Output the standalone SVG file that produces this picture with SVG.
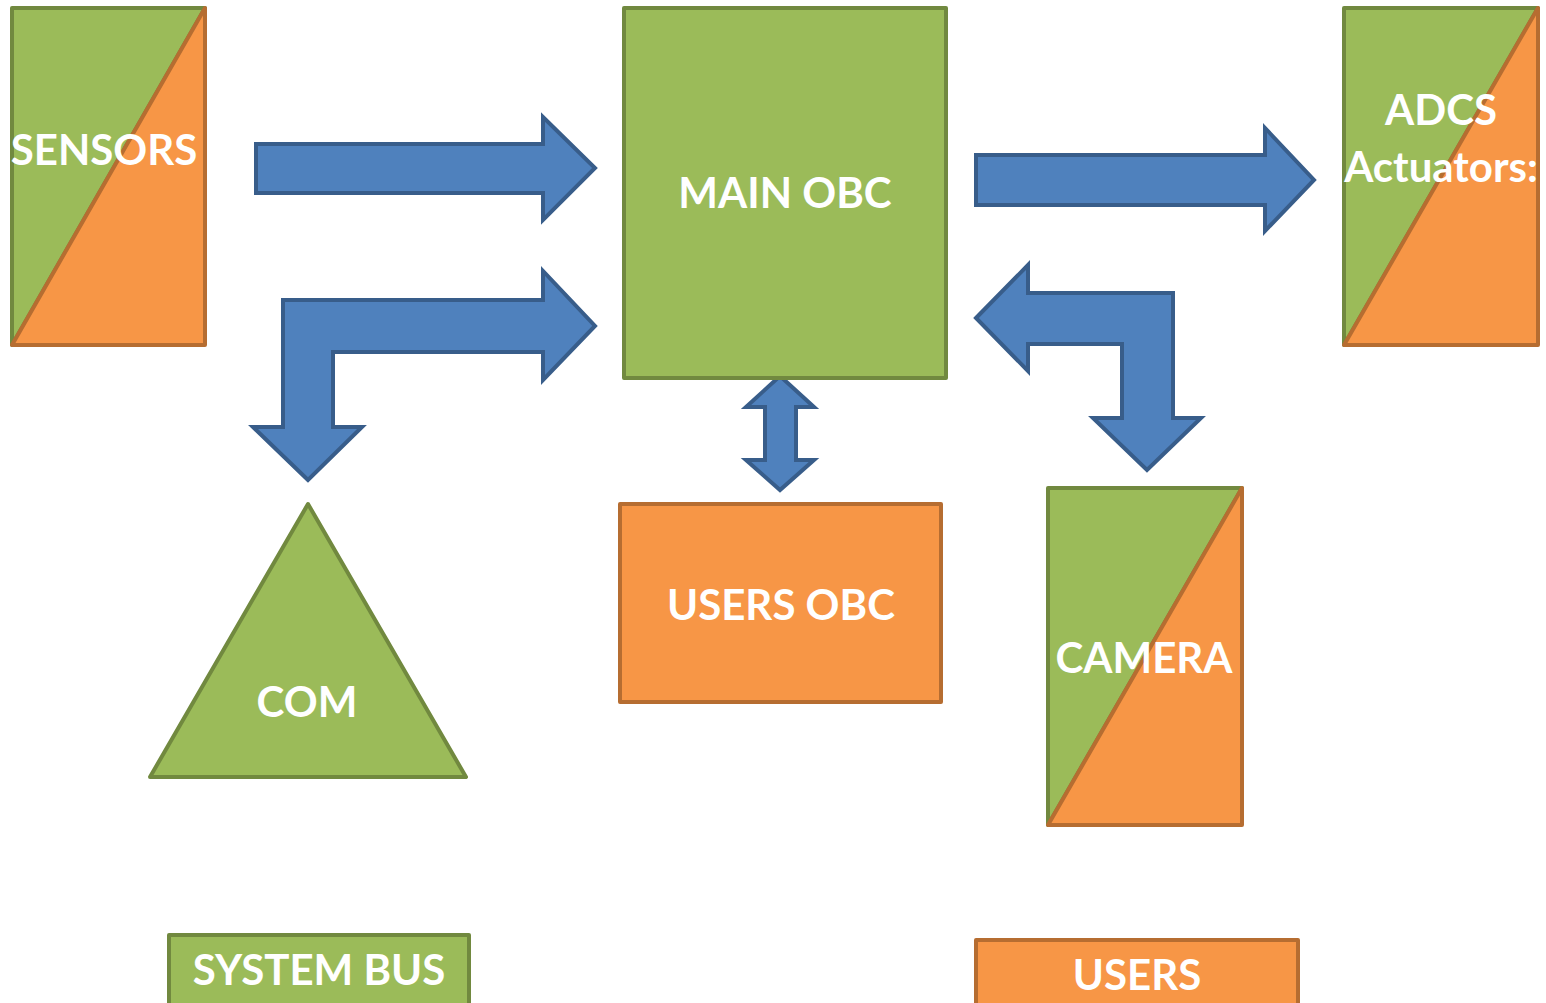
<svg xmlns="http://www.w3.org/2000/svg" width="1546" height="1003" viewBox="0 0 1546 1003">
  <style>
    .g { fill: #9BBB59; stroke: #71893F; stroke-width: 4; stroke-linejoin: round; }
    .o { fill: #F79646; stroke: #B66D31; stroke-width: 4; stroke-linejoin: round; }
    .arrow { fill: #4F81BD; stroke: #385D8A; stroke-width: 4; stroke-linejoin: miter; }
    .lbl { font-family: Lato, "Open Sans", "Liberation Sans", sans-serif; font-weight: bold; font-size: 42px; fill: #FFFFFF; text-anchor: middle; }
  </style>
  <rect width="1546" height="1003" fill="#FFFFFF"/>

  <!-- connectors -->
  <g id="connectors">
    <path class="arrow" d="M256,144 L543,144 L543,117 L595,168 L543,220 L543,193 L256,193 Z"/>
    <path class="arrow" d="M308,480 L253,427 L283,427 L283,300 L543,300 L543,271 L595,326 L543,380 L543,352 L333,352 L333,427 L362,427 Z"/>
    <path class="arrow" d="M976,155 L1265,155 L1265,128 L1314,180 L1265,231 L1265,205 L976,205 Z"/>
    <path class="arrow" d="M976,318 L1028,265 L1028,293 L1173,293 L1173,418 L1201,418 L1147,470 L1093,418 L1122,418 L1122,344 L1028,344 L1028,371 Z"/>
    <path class="arrow" d="M780,376 L814,407 L796,407 L796,460 L814,460 L780,490 L746,460 L765,460 L765,407 L746,407 Z"/>
  </g>

  <!-- sensors -->
  <g id="sensors">
    <path class="g" d="M12,345 L12,8 L205,8 Z"/>
    <path class="o" d="M205,8 L205,345 L12,345 Z"/>
    <text class="lbl" x="104" y="165">SENSORS</text>
  </g>

  <!-- main on-board computer -->
  <g id="main-obc">
    <rect class="g" x="624" y="8" width="322" height="370"/>
    <text class="lbl" x="785" y="208">MAIN OBC</text>
  </g>

  <!-- attitude control actuators -->
  <g id="adcs">
    <path class="g" d="M1344,345 L1344,8 L1538,8 Z"/>
    <path class="o" d="M1538,8 L1538,345 L1344,345 Z"/>
    <text class="lbl" x="1441" y="125">ADCS</text>
    <text class="lbl" x="1441" y="182">Actuators:</text>
  </g>

  <!-- communications -->
  <g id="com">
    <path class="g" d="M308,504 L466,777 L150,777 Z"/>
    <text class="lbl" x="307" y="717">COM</text>
  </g>

  <!-- users on-board computer -->
  <g id="users-obc">
    <rect class="o" x="620" y="504" width="321" height="198"/>
    <text class="lbl" x="781" y="620">USERS OBC</text>
  </g>

  <!-- camera -->
  <g id="camera">
    <path class="g" d="M1048,825 L1048,488 L1242,488 Z"/>
    <path class="o" d="M1242,488 L1242,825 L1048,825 Z"/>
    <text class="lbl" x="1144" y="673">CAMERA</text>
  </g>

  <!-- legend -->
  <g id="legend-system-bus">
    <rect class="g" x="169" y="935" width="300" height="80"/>
    <text class="lbl" x="319" y="985">SYSTEM BUS</text>
  </g>
  <g id="legend-users">
    <rect class="o" x="976" y="940" width="322" height="80"/>
    <text class="lbl" x="1137" y="990">USERS</text>
  </g>
</svg>
